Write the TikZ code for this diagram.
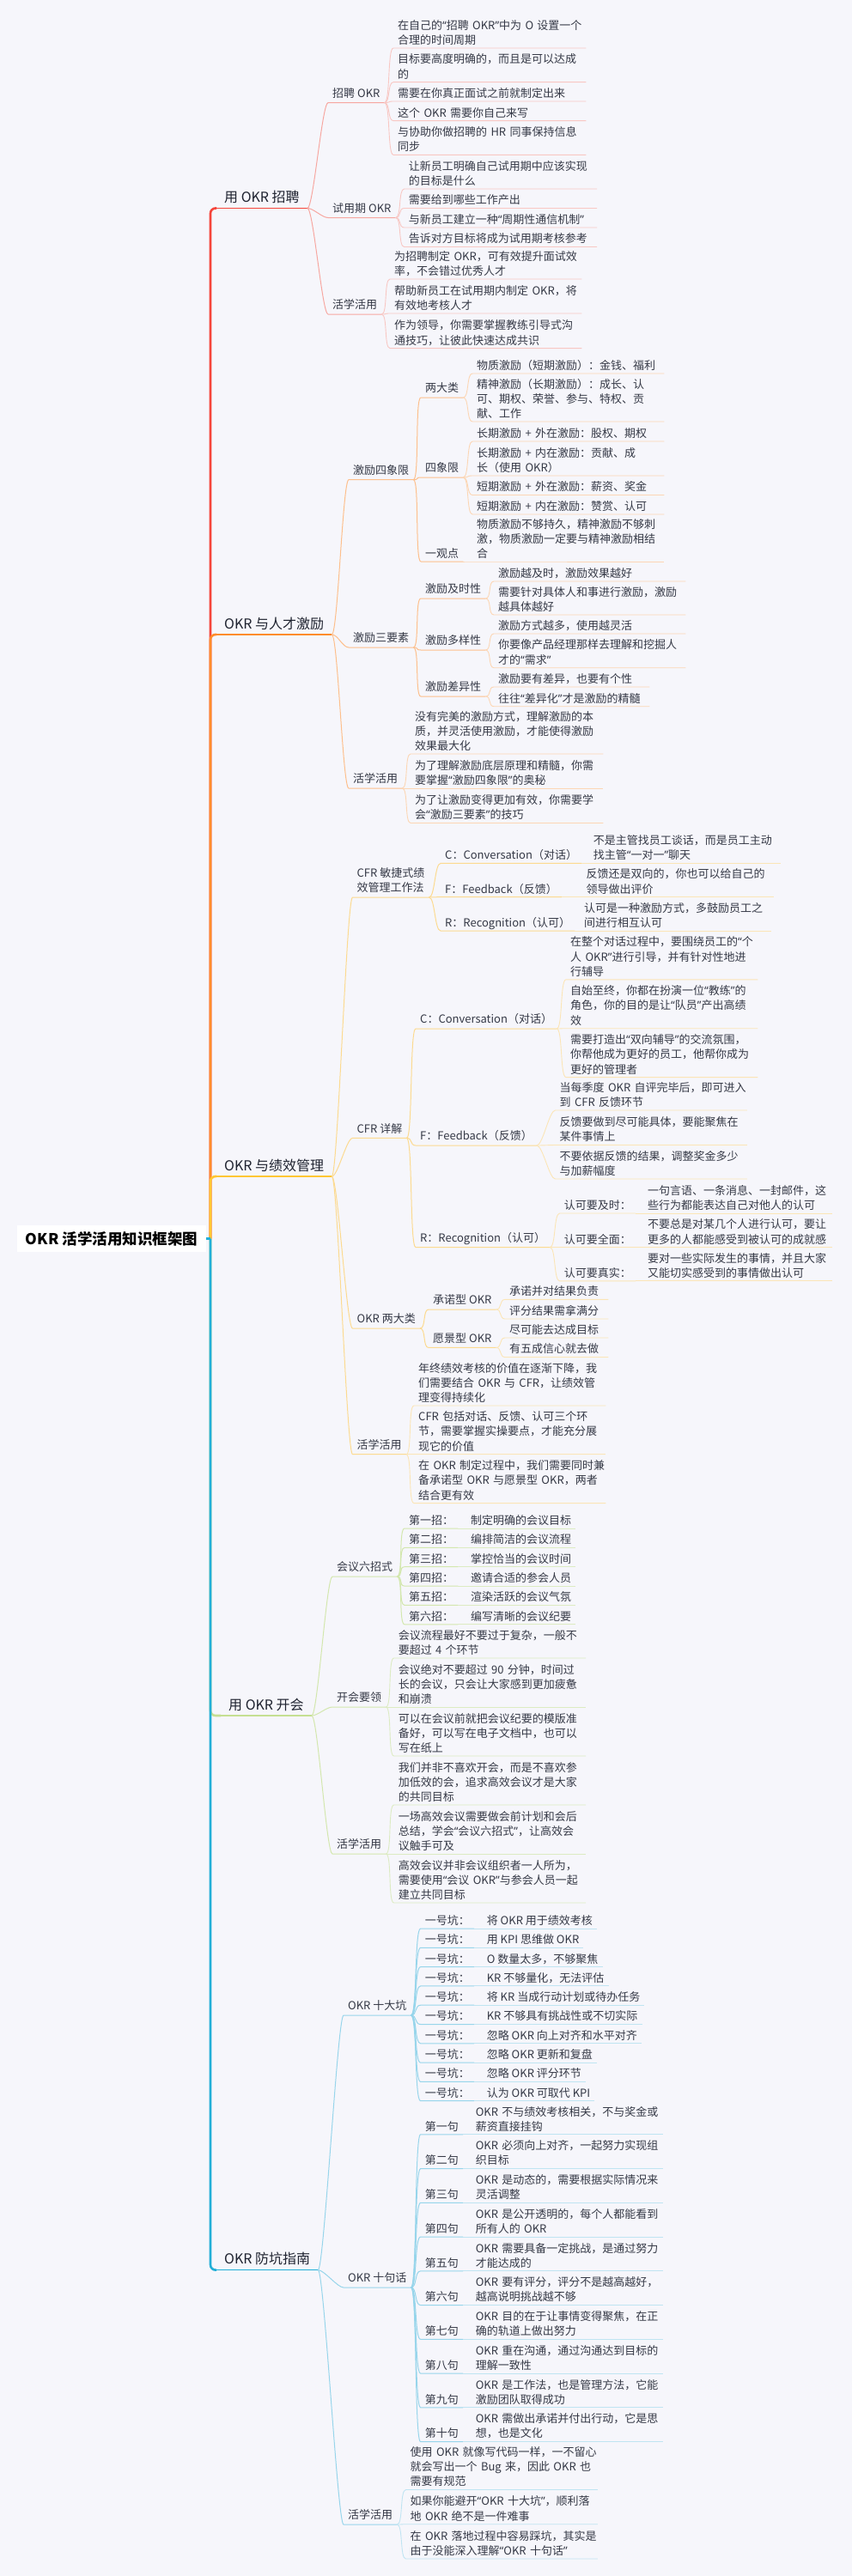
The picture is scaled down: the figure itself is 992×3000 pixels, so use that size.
\documentclass[tikz,border=0pt]{standalone}
\usepackage{fontspec}
\setmainfont{Noto Sans CJK SC}
\newfontfamily\qfont{Noto Sans}
\usepackage{tikz}

\definecolor{bgc}{HTML}{F6F6FB}
\definecolor{ink}{HTML}{353946}
\definecolor{inkd}{HTML}{1F2330}
\definecolor{r1}{HTML}{F5453B}\definecolor{r1s}{HTML}{F6A7A1}\definecolor{r1l}{HTML}{F8C7C3}
\definecolor{o2}{HTML}{FF8C2B}\definecolor{o2s}{HTML}{FDBF8C}\definecolor{o2l}{HTML}{FCD6B4}
\definecolor{y3}{HTML}{FFC733}\definecolor{y3s}{HTML}{FCDA90}\definecolor{y3l}{HTML}{FBE5B6}
\definecolor{g4}{HTML}{C5DF92}\definecolor{g4s}{HTML}{D3E7AE}\definecolor{g4l}{HTML}{DCEBC2}
\definecolor{b5}{HTML}{22AFD7}\definecolor{b5s}{HTML}{97D5EB}\definecolor{b5l}{HTML}{BFE4F2}

\tikzset{
  root/.style={fill=white, text=black, font=\fontsize{17.5}{21}\selectfont\bfseries,
    minimum width=220pt, minimum height=31pt, inner sep=0pt},
  main/.style={anchor=south west, text=inkd, font=\fontsize{16}{19}\selectfont,
    inner xsep=9pt, inner ysep=1.5pt, execute at end node={\rule[-5pt]{0pt}{5pt}}},
  sub/.style={anchor=south west, text=ink, font=\fontsize{13}{17.2}\selectfont, align=left,
    inner xsep=5pt, inner ysep=1.5pt, execute at end node={\rule[-4.5pt]{0pt}{4.5pt}}},
  item/.style={anchor=south west, text=ink, font=\fontsize{13}{17.2}\selectfont, align=left,
    inner xsep=5pt, inner ysep=1.4pt, execute at end node={\rule[-3pt]{0pt}{3pt}}},
  leaf/.style={item, text width=#1},
  leaf/.default=213pt,
  trunk/.style={line width=2.6pt, rounded corners=6pt},
  t1/.style={draw=r1, line width=1.6pt}, t2/.style={draw=o2, line width=1.6pt},
  t3/.style={draw=y3, line width=1.6pt}, t4/.style={draw=g4, line width=1.6pt},
  t5/.style={draw=b5, line width=1.6pt},
  s1/.style={draw=r1s, line width=1pt}, l1/.style={draw=r1l, line width=0.9pt},
  s2/.style={draw=o2s, line width=1pt}, l2/.style={draw=o2l, line width=0.9pt},
  s3/.style={draw=y3s, line width=1pt}, l3/.style={draw=y3l, line width=0.9pt},
  s4/.style={draw=g4s, line width=1pt}, l4/.style={draw=g4l, line width=0.9pt},
  s5/.style={draw=b5s, line width=1pt}, l5/.style={draw=b5l, line width=0.9pt}
}
\newcommand{\conn}[3]{\draw[#1] (#2.south east) .. controls +(7,0) and +(-7,0) .. (#3.south west) -- (#3.south east);}
\newcommand{\q}[1]{{\qfont “}#1{\qfont ”}}

\begin{document}
\begin{tikzpicture}[x=1pt,y=-1pt]
\useasboundingbox (0,0) rectangle (992,3000);
\fill[bgc] (0,0) rectangle (992,3000);
\coordinate (tk) at (245,1442.6);

% 用 OKR 招聘
\node[main] (m1) at (252,242.5) {用 OKR 招聘};
\draw[t1, trunk] (tk) |- (m1.south west);
\draw[t1] (m1.south west) -- (m1.south east);
\node[sub] (m1a) at (382,119.6) {招聘 OKR};
\node[leaf=214pt] (m1a1) at (458,56) {在自己的\q{招聘~OKR}中为~O~设置一个\\合理的时间周期};
\node[leaf=214pt] (m1a2) at (458,95.7) {目标要高度明确的，而且是可以达成\\的};
\node[leaf=214pt] (m1a3) at (458,118) {需要在你真正面试之前就制定出来};
\node[leaf=214pt] (m1a4) at (458,140.6) {这个~OKR~需要你自己来写};
\node[leaf=214pt] (m1a5) at (458,180.3) {与协助你做招聘的~HR~同事保持信息\\同步};
\node[sub] (m1b) at (382,253.5) {试用期 OKR};
\node[leaf=214pt] (m1b1) at (470.6,220) {让新员工明确自己试用期中应该实现\\的目标是什么};
\node[leaf=214pt] (m1b2) at (470.6,242.5) {需要给到哪些工作产出};
\node[leaf=214pt] (m1b3) at (470.6,265) {与新员工建立一种\q{周期性通信机制}};
\node[leaf=214pt] (m1b4) at (470.6,287.5) {告诉对方目标将成为试用期考核参考};
\node[sub] (m1c) at (382,366) {活学活用};
\node[leaf] (m1c1) at (454,325) {为招聘制定~OKR，可有效提升面试效\\率，不会错过优秀人才};
\node[leaf] (m1c2) at (454,365) {帮助新员工在试用期内制定~OKR，将\\有效地考核人才};
\node[leaf] (m1c3) at (454,405.6) {作为领导，你需要掌握教练引导式沟\\通技巧，让彼此快速达成共识};
\conn{s1}{m1}{m1a} \conn{s1}{m1}{m1b} \conn{s1}{m1}{m1c}
\foreach \i in {1,...,5} {\conn{l1}{m1a}{m1a\i}}
\foreach \i in {1,...,4} {\conn{l1}{m1b}{m1b\i}}
\foreach \i in {1,...,3} {\conn{l1}{m1c}{m1c\i}}

% OKR 与人才激励
\node[main] (m2) at (252,739) {OKR 与人才激励};
\draw[t2, trunk] (tk) |- (m2.south west);
\draw[t2] (m2.south west) -- (m2.south east);
\node[sub] (m2a) at (406,558.7) {激励四象限};
\node[sub] (m2a1) at (490,463) {两大类};
\node[leaf] (m2a1a) at (550,435) {物质激励（短期激励）：金钱、福利};
\node[leaf] (m2a1b) at (550,491) {精神激励（长期激励）：成长、认\\可、期权、荣誉、参与、特权、贡\\献、工作};
\node[sub] (m2a2) at (490,556) {四象限};
\node[leaf] (m2a2a) at (550,514) {长期激励~+~外在激励：股权、期权};
\node[leaf] (m2a2b) at (550,554) {长期激励~+~内在激励：贡献、成\\长（使用~OKR）};
\node[leaf] (m2a2c) at (550,576.5) {短期激励~+~外在激励：薪资、奖金};
\node[leaf] (m2a2d) at (550,599) {短期激励~+~内在激励：赞赏、认可};
\node[item] (m2a3) at (490,654) {一观点};
\node[leaf] (m2a3a) at (550,654) {物质激励不够持久，精神激励不够刺\\激，物质激励一定要与精神激励相结\\合};
\node[sub] (m2b) at (406,754) {激励三要素};
\node[sub] (m2b1) at (490,697) {激励及时性};
\node[leaf] (m2b1a) at (575,677) {激励越及时，激励效果越好};
\node[leaf] (m2b1b) at (575,716) {需要针对具体人和事进行激励，激励\\越具体越好};
\node[sub] (m2b2) at (490,757) {激励多样性};
\node[leaf] (m2b2a) at (575,738) {激励方式越多，使用越灵活};
\node[leaf] (m2b2b) at (575,777.7) {你要像产品经理那样去理解和挖掘人\\才的\q{需求}};
\node[sub] (m2b3) at (490,811) {激励差异性};
\node[leaf=171pt] (m2b3a) at (575,800) {激励要有差异，也要有个性};
\node[leaf=171pt] (m2b3b) at (575,822.7) {往往\q{差异化}才是激励的精髓};
\node[sub] (m2c) at (406,918) {活学活用};
\node[leaf=214pt] (m2c1) at (478,878) {没有完美的激励方式，理解激励的本\\质，并灵活使用激励，才能使得激励\\效果最大化};
\node[leaf=214pt] (m2c2) at (478,918) {为了理解激励底层原理和精髓，你需\\要掌握\q{激励四象限}的奥秘};
\node[leaf=214pt] (m2c3) at (478,958.5) {为了让激励变得更加有效，你需要学\\会\q{激励三要素}的技巧};
\conn{s2}{m2}{m2a} \conn{s2}{m2}{m2b} \conn{s2}{m2}{m2c}
\foreach \i in {1,2,3} {\conn{s2}{m2a}{m2a\i} \conn{s2}{m2b}{m2b\i} \conn{l2}{m2c}{m2c\i}}
\conn{l2}{m2a1}{m2a1a} \conn{l2}{m2a1}{m2a1b}
\foreach \j in {a,b,c,d} {\conn{l2}{m2a2}{m2a2\j}}
\conn{l2}{m2a3}{m2a3a}
\foreach \i in {1,2,3} {\conn{l2}{m2b\i}{m2b\i a} \conn{l2}{m2b\i}{m2b\i b}}

% OKR 与绩效管理
\node[main] (m3) at (252,1370) {OKR 与绩效管理};
\draw[t3, trunk] (tk) |- (m3.south west);
\draw[t3] (m3.south west) -- (m3.south east);
\node[sub] (m3a) at (410.5,1045) {CFR 敏捷式绩\\效管理工作法};
\node[item] (m3a1) at (513,1005.4) {C：Conversation（对话）};
\node[leaf] (m3a1a) at (685.7,1005.4) {不是主管找员工谈话，而是员工主动\\找主管\q{一对一}聊天};
\node[item] (m3a2) at (513,1044.6) {F：Feedback（反馈）};
\node[leaf] (m3a2a) at (677.5,1044.6) {反馈还是双向的，你也可以给自己的\\领导做出评价};
\node[item] (m3a3) at (513,1084) {R：Recognition（认可）};
\node[leaf] (m3a3a) at (675,1084) {认可是一种激励方式，多鼓励员工之\\间进行相互认可};
\node[sub] (m3b) at (410.5,1325.4) {CFR 详解};
\node[sub] (m3b1) at (484,1198) {C：Conversation（对话）};
\node[leaf] (m3b1a) at (659,1140.8) {在整个对话过程中，要围绕员工的\q{个\\人~OKR}进行引导，并有针对性地进\\行辅导};
\node[leaf] (m3b1b) at (659,1197.7) {自始至终，你都在扮演一位\q{教练}的\\角色，你的目的是让\q{队员}产出高绩\\效};
\node[leaf] (m3b1c) at (659,1254.6) {需要打造出\q{双向辅导}的交流氛围，\\你帮他成为更好的员工，他帮你成为\\更好的管理者};
\node[sub] (m3b2) at (484,1334) {F：Feedback（反馈）};
\node[leaf] (m3b2a) at (646.5,1293) {当每季度~OKR~自评完毕后，即可进入\\到~CFR~反馈环节};
\node[leaf] (m3b2b) at (646.5,1333.5) {反馈要做到尽可能具体，要能聚焦在\\某件事情上};
\node[leaf] (m3b2c) at (646.5,1373) {不要依据反馈的结果，调整奖金多少\\与加薪幅度};
\node[sub] (m3b3) at (484,1452.6) {R：Recognition（认可）};
\node[item] (m3b3a) at (651.6,1413) {认可要及时：};
\node[leaf=210pt] (m3b3a1) at (749,1413) {一句言语、一条消息、一封邮件，这\\些行为都能表达自己对他人的认可};
\node[item] (m3b3b) at (651.6,1452.6) {认可要全面：};
\node[leaf=210pt] (m3b3b1) at (749,1452.6) {不要总是对某几个人进行认可，要让\\更多的人都能感受到被认可的成就感};
\node[item] (m3b3c) at (651.6,1491.9) {认可要真实：};
\node[leaf=210pt] (m3b3c1) at (749,1491.9) {要对一些实际发生的事情，并且大家\\又能切实感受到的事情做出认可};
\node[sub] (m3c) at (410.5,1547) {OKR 两大类};
\node[sub] (m3c1) at (499,1525) {承诺型 OKR};
\node[leaf=110pt] (m3c1a) at (588,1513.4) {承诺并对结果负责};
\node[leaf=110pt] (m3c1b) at (588,1536) {评分结果需拿满分};
\node[sub] (m3c2) at (499,1569.4) {愿景型 OKR};
\node[leaf=110pt] (m3c2a) at (588,1558) {尽可能去达成目标};
\node[leaf=110pt] (m3c2b) at (588,1580.5) {有五成信心就去做};
\node[sub] (m3d) at (410.5,1693.7) {活学活用};
\node[leaf] (m3d1) at (482,1637) {年终绩效考核的价值在逐渐下降，我\\们需要结合~OKR~与~CFR，让绩效管\\理变得持续化};
\node[leaf] (m3d2) at (482,1693.7) {CFR~包括对话、反馈、认可三个环\\节，需要掌握实操要点，才能充分展\\现它的价值};
\node[leaf] (m3d3) at (482,1750.6) {在~OKR~制定过程中，我们需要同时兼\\备承诺型~OKR~与愿景型~OKR，两者\\结合更有效};
\foreach \j in {a,b,c,d} {\conn{s3}{m3}{m3\j}}
\foreach \i in {1,2,3} {\conn{s3}{m3a}{m3a\i} \conn{l3}{m3a\i}{m3a\i a} \conn{s3}{m3b}{m3b\i} \conn{l3}{m3d}{m3d\i}}
\foreach \j in {a,b,c} {\conn{l3}{m3b1}{m3b1\j} \conn{l3}{m3b2}{m3b2\j} \conn{l3}{m3b3}{m3b3\j} \conn{l3}{m3b3\j}{m3b3\j 1}}
\foreach \i in {1,2} {\conn{s3}{m3c}{m3c\i} \conn{l3}{m3c\i}{m3c\i a} \conn{l3}{m3c\i}{m3c\i b}}

% 用 OKR 开会
\node[main] (m4) at (257,1998) {用 OKR 开会};
\draw[t4, trunk] (tk) |- (m4.south west);
\draw[t4] (m4.south west) -- (m4.south east);
\node[sub] (m4a) at (387,1836) {会议六招式};
\foreach \lab/\txt [count=\i from 0] in {第一招：/制定明确的会议目标, 第二招：/编排简洁的会议流程,
    第三招：/掌控恰当的会议时间, 第四招：/邀请合适的参会人员,
    第五招：/渲染活跃的会议气氛, 第六招：/编写清晰的会议纪要} {
  \node[item] (m4a\i) at (471,1780+22.35*\i) {\lab};
  \node[item] (m4t\i) at (543,1780+22.35*\i) {\txt};
  \conn{s4}{m4a}{m4a\i}
  \conn{l4}{m4a\i}{m4t\i}
}
\node[sub] (m4b) at (387,1988) {开会要领};
\node[leaf] (m4b1) at (458.6,1931) {会议流程最好不要过于复杂，一般不\\要超过~4~个环节};
\node[leaf] (m4b2) at (458.6,1988) {会议绝对不要超过~90~分钟，时间过\\长的会议，只会让大家感到更加疲惫\\和崩溃};
\node[leaf] (m4b3) at (458.6,2045) {可以在会议前就把会议纪要的模版准\\备好，可以写在电子文档中，也可以\\写在纸上};
\node[sub] (m4c) at (387,2159) {活学活用};
\node[leaf] (m4c1) at (458.6,2102) {我们并非不喜欢开会，而是不喜欢参\\加低效的会，追求高效会议才是大家\\的共同目标};
\node[leaf] (m4c2) at (458.6,2159) {一场高效会议需要做会前计划和会后\\总结，学会\q{会议六招式}，让高效会\\议触手可及};
\node[leaf] (m4c3) at (458.6,2216) {高效会议并非会议组织者一人所为，\\需要使用\q{会议~OKR}与参会人员一起\\建立共同目标};
\conn{s4}{m4}{m4a} \conn{s4}{m4}{m4b} \conn{s4}{m4}{m4c}
\foreach \i in {1,2,3} {\conn{l4}{m4b}{m4b\i} \conn{l4}{m4c}{m4c\i}}

% OKR 防坑指南
\node[main] (m5) at (252,2643.6) {OKR 防坑指南};
\draw[t5, trunk] (tk) |- (m5.south west);
\draw[t5] (m5.south west) -- (m5.south east);
\node[sub] (m5a) at (400,2347) {OKR 十大坑};
\foreach \txt [count=\i from 0] in {将 OKR 用于绩效考核, 用 KPI 思维做 OKR, O 数量太多，不够聚焦,
    KR 不够量化，无法评估, 将 KR 当成行动计划或待办任务, KR 不够具有挑战性或不切实际,
    忽略 OKR 向上对齐和水平对齐, 忽略 OKR 更新和复盘, 忽略 OKR 评分环节, 认为 OKR 可取代 KPI} {
  \node[item] (m5a\i) at (489.6,2246+22.3*\i) {一号坑：};
  \node[item] (m5t\i) at (561.6,2246+22.3*\i) {\txt};
  \conn{s5}{m5a}{m5a\i}
  \conn{l5}{m5a\i}{m5t\i}
}
\node[sub] (m5b) at (400,2664) {OKR 十句话};
\foreach \lab/\txt [count=\i from 0] in {
    第一句/{OKR~不与绩效考核相关，不与奖金或\\薪资直接挂钩},
    第二句/{OKR~必须向上对齐，一起努力实现组\\织目标},
    第三句/{OKR~是动态的，需要根据实际情况来\\灵活调整},
    第四句/{OKR~是公开透明的，每个人都能看到\\所有人的~OKR},
    第五句/{OKR~需要具备一定挑战，是通过努力\\才能达成的},
    第六句/{OKR~要有评分，评分不是越高越好，\\越高说明挑战越不够},
    第七句/{OKR~目的在于让事情变得聚焦，在正\\确的轨道上做出努力},
    第八句/{OKR~重在沟通，通过沟通达到目标的\\理解一致性},
    第九句/{OKR~是工作法，也是管理方法，它能\\激励团队取得成功},
    第十句/{OKR~需做出承诺并付出行动，它是思\\想，也是文化}} {
  \node[item] (m5b\i) at (489.6,2485.8+39.75*\i) {\lab};
  \node[leaf] (m5s\i) at (548.6,2485.8+39.75*\i) {\txt};
  \conn{s5}{m5b}{m5b\i}
  \conn{l5}{m5b\i}{m5s\i}
}
\node[sub] (m5c) at (400,2940) {活学活用};
\node[leaf] (m5c1) at (472.5,2899.5) {使用~OKR~就像写代码一样，一不留心\\就会写出一个~Bug~来，因此~OKR~也\\需要有规范};
\node[leaf] (m5c2) at (472.5,2939.7) {如果你能避开\q{OKR~十大坑}，顺利落\\地~OKR~绝不是一件难事};
\node[leaf] (m5c3) at (472.5,2980) {在~OKR~落地过程中容易踩坑，其实是\\由于没能深入理解\q{OKR~十句话}};
\conn{s5}{m5}{m5a} \conn{s5}{m5}{m5b} \conn{s5}{m5}{m5c}
\foreach \i in {1,2,3} {\conn{l5}{m5c}{m5c\i}}

\node[root] (root) at (130,1442.6) {OKR 活学活用知识框架图};
\draw[draw=b5, line width=2.6pt] (root.east) -- (tk);
\end{tikzpicture}
\end{document}
